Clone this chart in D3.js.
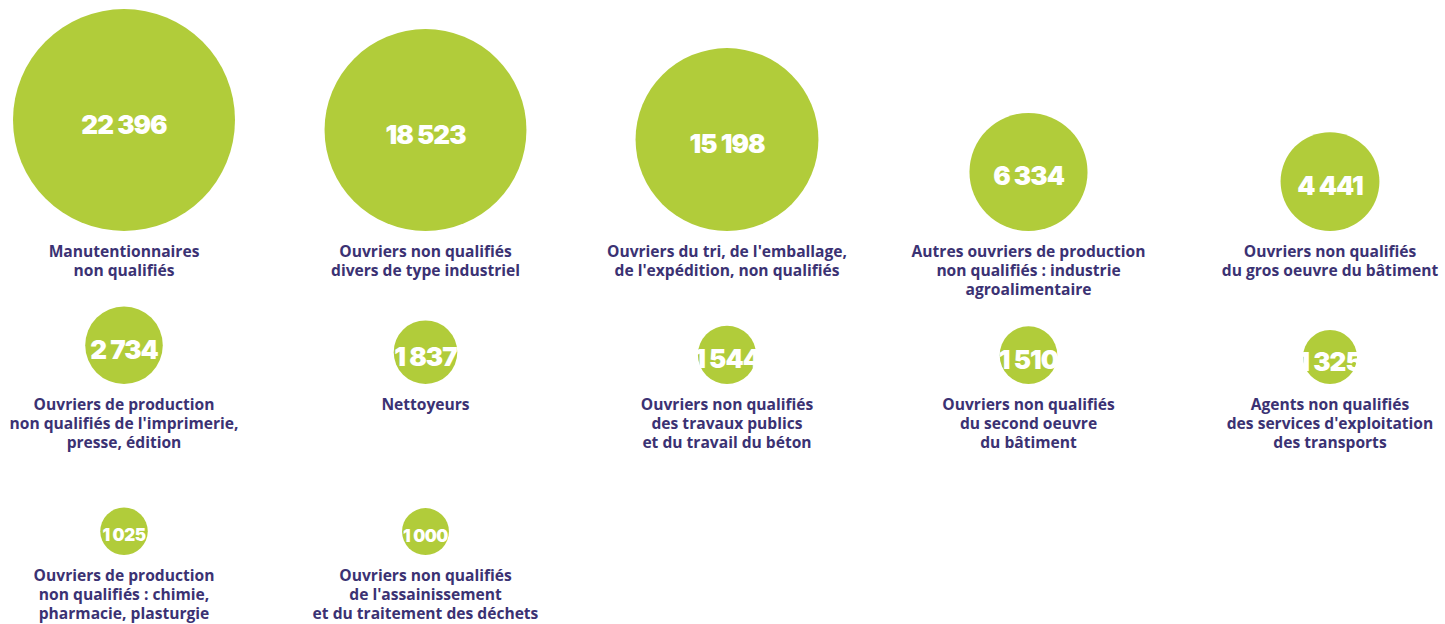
<!DOCTYPE html>
<html>
<head>
<meta charset="utf-8">
<script src="https://cdn.jsdelivr.net/npm/d3@7"></script>
<style>
	body { margin: 0; background: #fff; }
	#chart { width: 1445px; height: 624px; overflow: hidden; }
	.label { font-family: 'Open Sans', sans-serif; font-weight: 700; fill: #3b3273; }
	.value { font-family: 'Inter', sans-serif; font-weight: 900; fill: #fff; }
</style>
</head>
<body>
<div id="chart"></div>
<script>
// métiers (libellés, coupés en lignes)
const jobs = [
	'Manutentionnaires\nnon qualifiés',
	'Ouvriers non qualifiés\ndivers de type industriel',
	"Ouvriers du tri, de l'emballage,\nde l'expédition, non qualifiés",
	'Autres ouvriers de production\nnon qualifiés : industrie\nagroalimentaire',
	'Ouvriers non qualifiés\ndu gros oeuvre du bâtiment',
	"Ouvriers de production\nnon qualifiés de l'imprimerie,\npresse, édition",
	'Nettoyeurs',
	'Ouvriers non qualifiés\ndes travaux publics\net du travail du béton',
	'Ouvriers non qualifiés\ndu second oeuvre\ndu bâtiment',
	"Agents non qualifiés\ndes services d'exploitation\ndes transports",
	'Ouvriers de production\nnon qualifiés : chimie,\npharmacie, plasturgie',
	"Ouvriers non qualifiés\nde l'assainissement\net du traitement des déchets"
];

const counts = [22396, 18523, 15198, 6334, 4441, 2734, 1837, 1544, 1510, 1325, 1025, 1000];

const data = jobs.map((job, i) => ({ job, count: counts[i], col: i % 5, row: Math.floor(i / 5) }));

const width = 1445;
const height = 624;

const fr = d3.formatLocale({ decimal: ',', thousands: '\u00a0', grouping: [3], currency: ['', ' €'] });
const fmt = fr.format(',d');

const svg = d3.select('#chart')
	.append('svg')
		.attr('width', width)
		.attr('height', height);

// colonnes
const xScale = d3.scalePoint()
	.domain(d3.range(5))
	.range([124, 1330]);

// bas des cercles pour chaque rangée
const rowBottom = d3.scaleOrdinal()
	.domain([0, 1, 2])
	.range([231, 384, 555]);

const rScale = d3.scaleSqrt()
	.domain([0, d3.max(counts)])
	.range([0, 111]);

const cells = svg.selectAll('g.cell')
	.data(data)
	.join('g')
		.attr('class', 'cell')
		.attr('transform', d => `translate(${xScale(d.col)},${rowBottom(d.row)})`);

cells.append('circle')
	.attr('cx', 0)
	.attr('cy', d => -rScale(d.count))
	.attr('r', d => rScale(d.count))
	.attr('fill', '#b1cc3a');

cells.append('text')
	.attr('class', 'value')
	.attr('x', 0)
	.attr('y', d => -rScale(d.count) + 4)
	.attr('text-anchor', 'middle')
	.attr('dominant-baseline', 'central')
	.style('font-size', d => rScale(d.count) < 25 ? '17px' : '26px')
	.style('letter-spacing', d => rScale(d.count) < 25 ? '-0.5px' : '-1px')
	.text(d => fmt(d.count));

const lab = cells.append('text')
	.attr('class', 'label')
	.attr('text-anchor', 'middle')
	.style('font-size', '15.6px');

lab.selectAll('tspan')
	.data(d => d.job.split('\n'))
	.join('tspan')
		.attr('x', 0)
		.attr('y', (d, i) => 20 + i * 19)
		.attr('dominant-baseline', 'central')
		.text(d => d);
</script>
</body>
</html>
